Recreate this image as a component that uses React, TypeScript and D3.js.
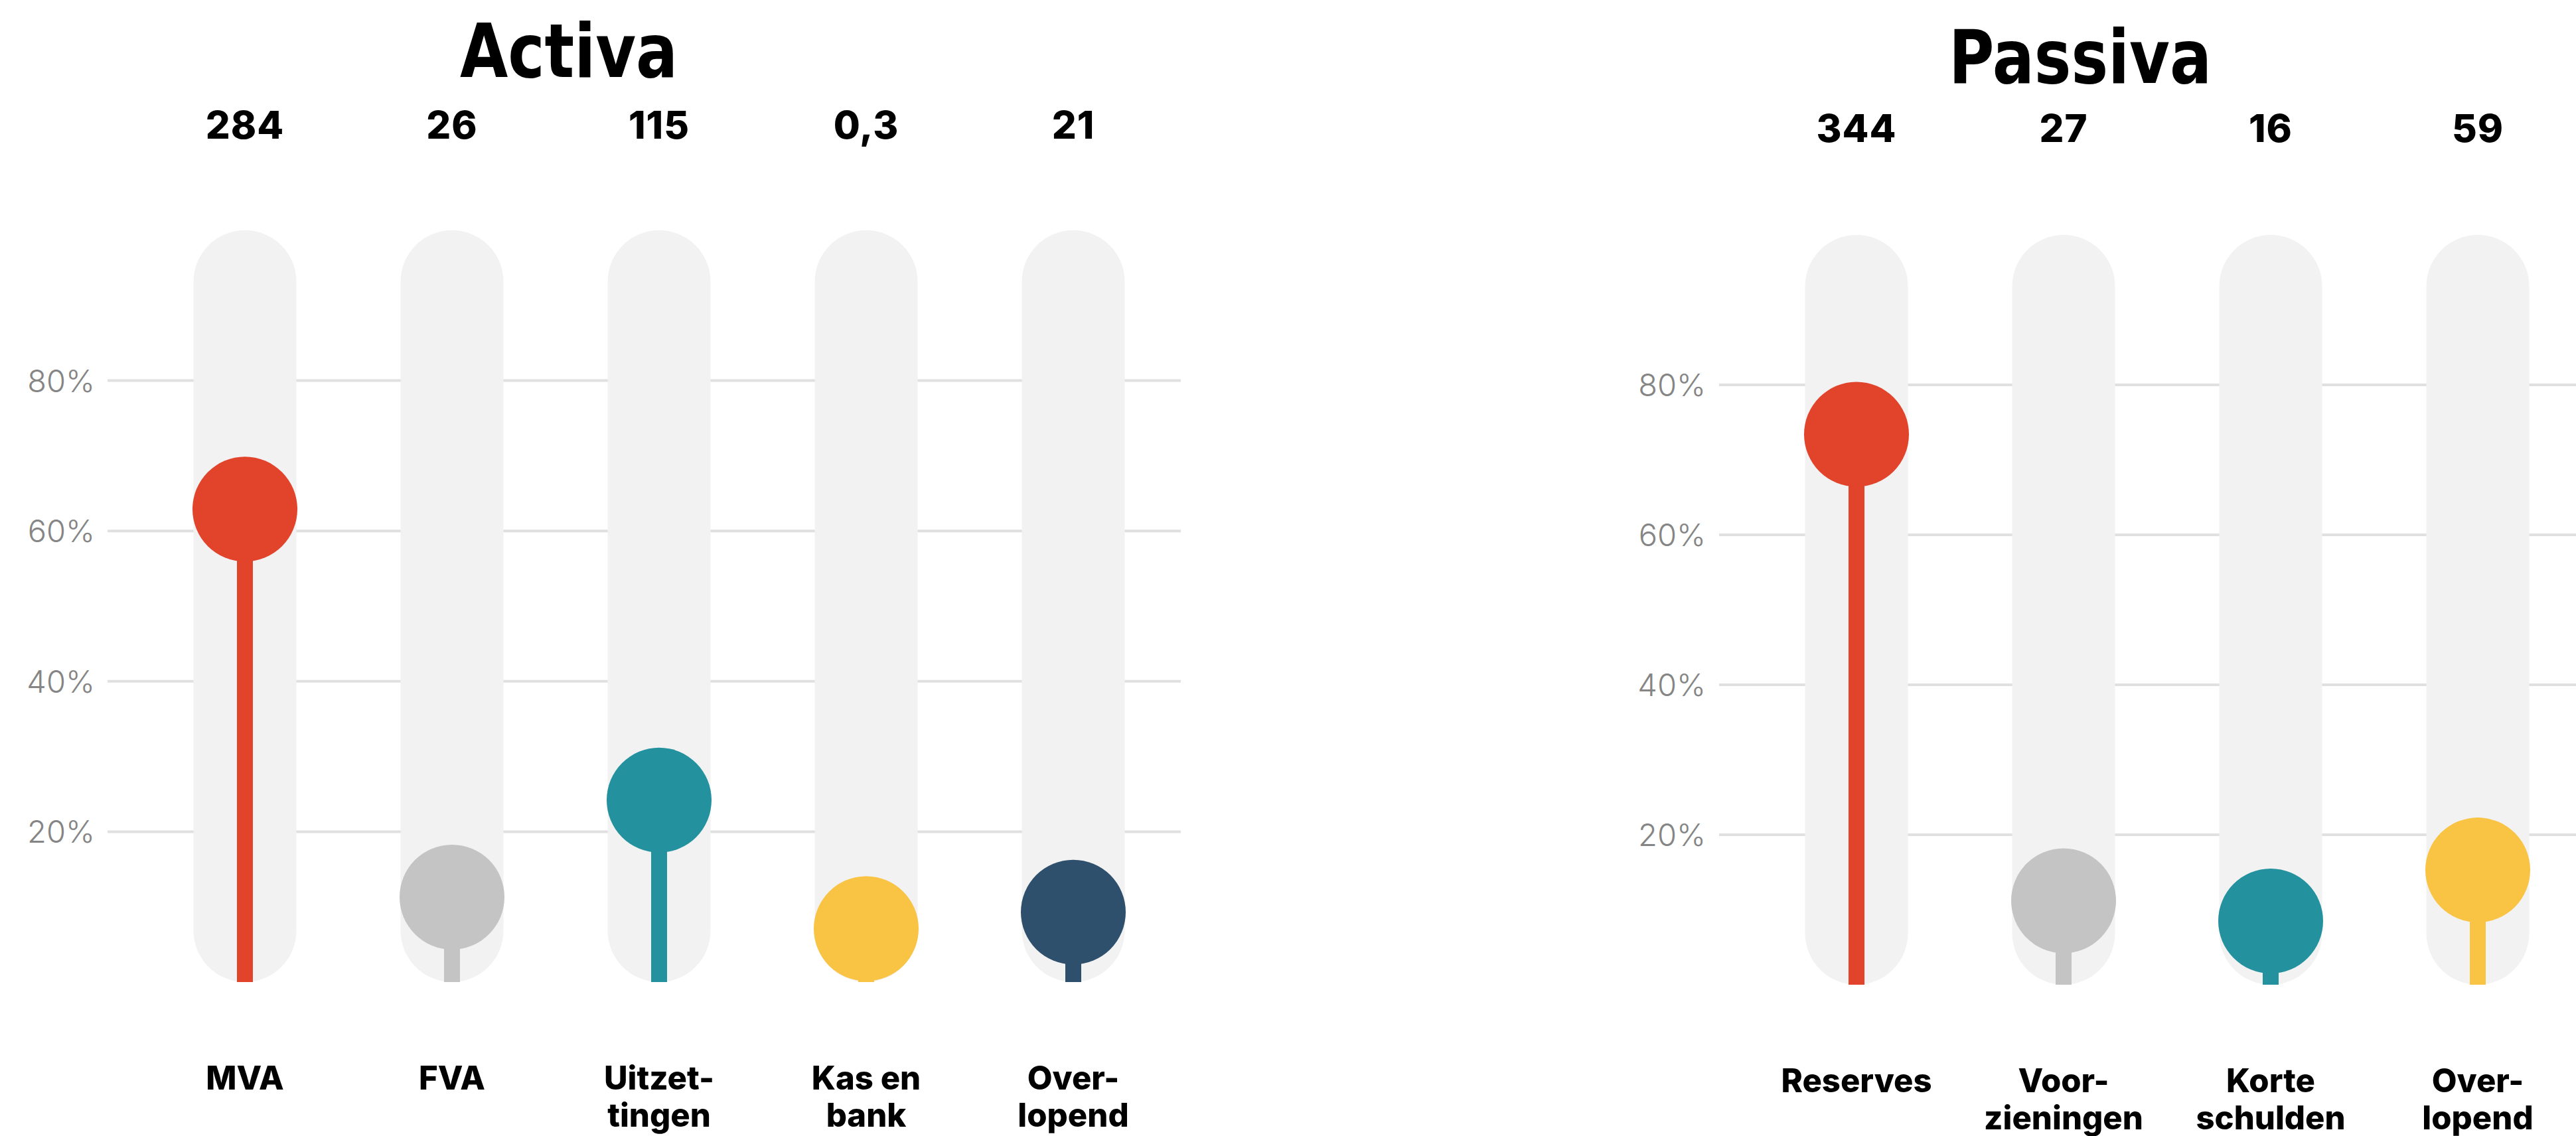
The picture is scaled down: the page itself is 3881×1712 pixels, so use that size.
import * as d3 from "d3";

// Activa
const activaCategories = ["MVA", "FVA", "Uitzet-|tingen", "Kas en|bank", "Over-|lopend"];
const activaValues = ["284", "26", "115", "0,3", "21"];
const activaShare = [62.9, 11.3, 24.2, 7.1, 9.3];

// Passiva
const passivaCategories = ["Reserves", "Voor-|zieningen", "Korte|schulden", "Over-|lopend"];
const passivaValues = ["344", "27", "16", "59"];
const passivaShare = [73.4, 11.2, 8.5, 15.3];

const yTicks = [20, 40, 60, 80];

const COLORS = {
  red: "#e2432b",
  gray: "#c3c4c3",
  teal: "#24919e",
  yellow: "#f9c344",
  navy: "#2e506d",
  pill: "#f2f2f2",
  grid: "#e0e0e0",
  tick: "#858585",
};

const activaColors = [COLORS.red, COLORS.gray, COLORS.teal, COLORS.yellow, COLORS.navy];
const passivaColors = [COLORS.red, COLORS.gray, COLORS.teal, COLORS.yellow];

const STEP = 312;
const PILL_W = 155;
const DOT_R = 79;
const STEM_W = 24;

interface PanelProps {
  title: string;
  titleX: number;
  titleY: number;
  titleW: number;
  categories: string[];
  values: string[];
  share: number[];
  colors: string[];
  pillLeft: number;
  y0: number;
  y100: number;
  gridX1: number;
  gridX2: number;
  tickRight: number;
  valueY: number;
  catY: number;
}

function Panel(p: PanelProps) {
  const n = p.categories.length;
  const x = d3
    .scaleBand<string>()
    .domain(p.categories)
    .range([p.pillLeft, p.pillLeft + n * STEP - (1 - PILL_W / STEP) * STEP])
    .paddingInner(1 - PILL_W / STEP)
    .paddingOuter(0);
  const y = d3.scaleLinear().domain([0, 100]).range([p.y0, p.y100]);
  const bw = x.bandwidth();

  return (
    <g>
      <text
        x={p.titleX}
        y={p.titleY}
        textAnchor="middle"
        fontFamily="'Liberation Sans Narrow', 'DejaVu Sans Condensed', 'Roboto', sans-serif"
        fontWeight={700}
        fontSize={112}
        textLength={p.titleW}
        lengthAdjust="spacingAndGlyphs"
        fill="#000"
      >
        {p.title}
      </text>

      {/* grid */}
      {yTicks.map((t) => (
        <g key={t}>
          <line x1={p.gridX1} x2={p.gridX2} y1={y(t)} y2={y(t)} stroke={COLORS.grid} strokeWidth={4} />
          <text
            x={p.tickRight}
            y={y(t) + 17}
            textAnchor="end"
            fontFamily="Inter, Lato, sans-serif"
            fontWeight={300}
            fontSize={47}
            fill={COLORS.tick}
          >
            {`${t}%`}
          </text>
        </g>
      ))}

      {p.categories.map((c, i) => {
        const cx = x(c)! + bw / 2;
        const cy = Math.min(y(p.share[i]), p.y0 - DOT_R + 2);
        const lines = c.split("|");
        return (
          <g key={c}>
            <rect x={x(c)} y={p.y100} width={bw} height={p.y0 - p.y100} rx={bw / 2} ry={bw / 2} fill={COLORS.pill} />
            <rect x={cx - STEM_W / 2} y={cy} width={STEM_W} height={p.y0 - cy} fill={p.colors[i]} />
            <circle cx={cx} cy={cy} r={DOT_R} fill={p.colors[i]} />
            <text
              x={cx}
              y={p.valueY}
              textAnchor="middle"
              fontFamily="Inter, 'Open Sans', sans-serif"
              fontWeight={800}
              fontSize={58}
              letterSpacing={1}
              fill="#000"
            >
              {p.values[i]}
            </text>
            {lines.map((l, j) => (
              <text
                key={l}
                x={cx}
                y={p.catY + j * 56}
                textAnchor="middle"
                fontFamily="Inter, 'Open Sans', sans-serif"
                fontWeight={800}
                fontSize={49}
                fill="#000"
              >
                {l}
              </text>
            ))}
          </g>
        );
      })}
    </g>
  );
}

export default function App() {
  return (
    <svg
      width={3881}
      height={1712}
      viewBox="0 0 3881 1712"
      style={{ position: "absolute", left: 0, top: 0, background: "#fff" }}
    >
      <rect width={3881} height={1712} fill="#fff" />
      <Panel
        title="Activa"
        titleX={857}
        titleY={116}
        titleW={328}
        categories={activaCategories}
        values={activaValues}
        share={activaShare}
        colors={activaColors}
        pillLeft={291.5}
        y0={1480}
        y100={347}
        gridX1={162}
        gridX2={1779}
        tickRight={143}
        valueY={209}
        catY={1642}
      />
      <Panel
        title="Passiva"
        titleX={3134}
        titleY={125}
        titleW={396}
        categories={passivaCategories}
        values={passivaValues}
        share={passivaShare}
        colors={passivaColors}
        pillLeft={2719.5}
        y0={1484}
        y100={354}
        gridX1={2590}
        gridX2={3900}
        tickRight={2570}
        valueY={214}
        catY={1646}
      />
    </svg>
  );
}
